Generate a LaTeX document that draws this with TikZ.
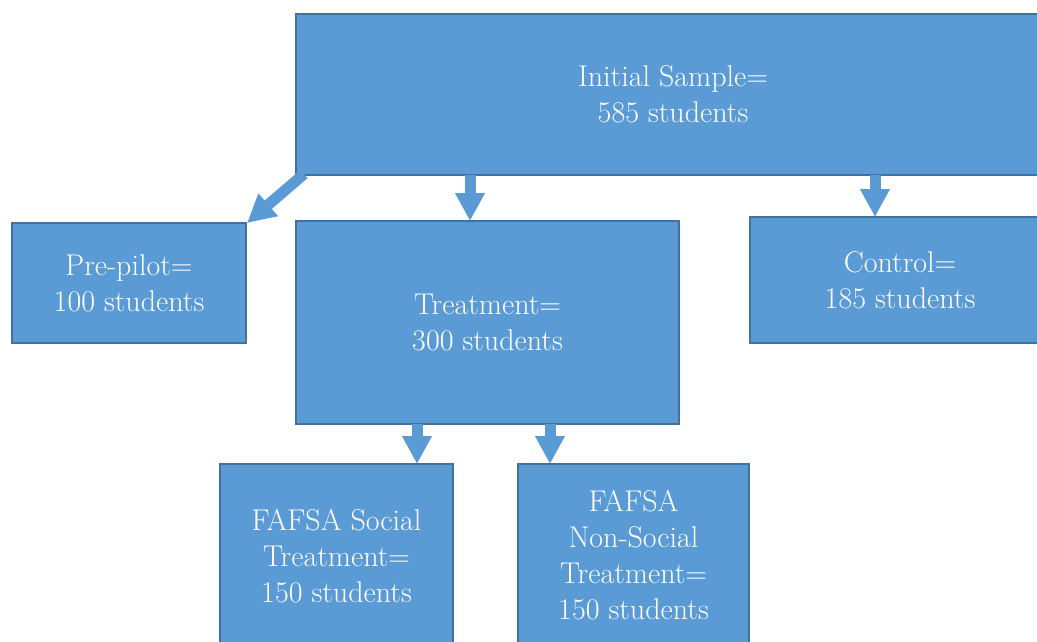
\documentclass[tikz,border=0pt]{standalone}
\usetikzlibrary{arrows.meta,calc}
\definecolor{boxfill}{HTML}{5B9BD5}
\definecolor{boxline}{HTML}{41719C}
\begin{document}
\begin{tikzpicture}[x=1pt,y=1pt,
  box/.style={draw=boxline, fill=boxfill, line width=2pt, rectangle, inner sep=0pt, outer sep=0pt,
    anchor=north west, align=center, text=white, font=\fontsize{30}{36}\selectfont},
  blk/.style={draw=boxfill, line width=11pt, line cap=butt, -{Triangle[width=28pt,length=28pt]}}]
\useasboundingbox (0,0) rectangle (1037,-641);
\clip (0,0) rectangle (1037,-641);
\node[box, minimum width=754pt, minimum height=161pt] (init) at (296,-14) {Initial Sample=\\585 students};
\node[box, minimum width=234pt, minimum height=120pt] (pre) at (12,-223) {Pre-pilot=\\100 students};
\node[box, minimum width=383pt, minimum height=203pt] (treat) at (296,-221) {Treatment=\\300 students};
\node[box, minimum width=300pt, minimum height=126pt] (ctrl) at (750,-217) {Control=\\185 students};
\node[box, minimum width=233pt, minimum height=184pt] (soc) at (220,-464) {FAFSA Social\\Treatment=\\150 students};
\node[box, minimum width=231pt, minimum height=182pt] (non) at (518,-464) {FAFSA\\Non-Social\\Treatment=\\150 students};
\draw[blk] ([xshift=8pt,yshift=1pt]init.south west) -- ([xshift=1pt]pre.north east);
\draw[blk] ([xshift=-203pt]init.south) -- ([xshift=-17.5pt]treat.north);
\draw[blk] ([xshift=202pt]init.south) -- ([xshift=-25pt]ctrl.north);
\draw[blk] ([xshift=-70.5pt]treat.south) -- ([xshift=80.5pt]soc.north);
\draw[blk] ([xshift=62.5pt]treat.south) -- ([xshift=-83.5pt]non.north);
\end{tikzpicture}
\end{document}
